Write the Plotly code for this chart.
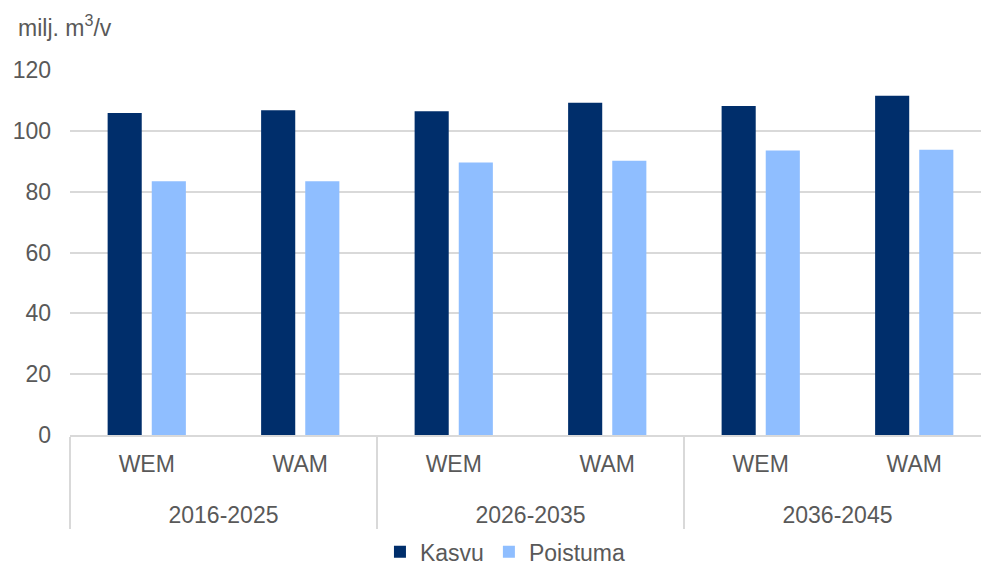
import plotly.graph_objects as go

# Periods and scenarios (two-level category axis)
periods = ["2016-2025", "2026-2035", "2036-2045"]
scenarios = ["WEM", "WAM"]

# Annual growth and drain, million m³ per year
kasvu = [105.9, 106.8, 106.4, 109.2, 108.2, 111.5]
poistuma = [83.4, 83.4, 89.6, 90.2, 93.5, 93.8]

# A spacer first line drops the period labels one row below the scenarios
x_levels = [
    ["\u00a0<br>" + p for p in periods for _ in scenarios],
    [s for _ in periods for s in scenarios],
]

text_color = "#595959"
grid_color = "#D9D9D9"
font_family = "Liberation Sans, Arial, sans-serif"

fig = go.Figure()
fig.add_trace(go.Bar(x=x_levels, y=kasvu, name="Kasvu",
                     marker=dict(color="#002E6B", line=dict(width=0))))
fig.add_trace(go.Bar(x=x_levels, y=poistuma, name="Poistuma",
                     marker=dict(color="#8FBEFF", line=dict(width=0))))

fig.update_layout(
    width=981, height=566,
    margin=dict(l=70, r=0, t=70, b=131, autoexpand=False),
    paper_bgcolor="white", plot_bgcolor="white",
    font=dict(family=font_family, size=23, color=text_color),
    barmode="group", bargap=0.425, bargroupgap=0.227,
    showlegend=True,
    legend=dict(orientation="h", x=0.478, xanchor="center",
                y=-0.32, yanchor="middle", font=dict(size=23),
                itemwidth=30, traceorder="normal"),
    annotations=[dict(text="milj. m<sup>3</sup>/v", xref="paper", yref="paper",
                      x=-0.059, y=1.12, xanchor="left", yanchor="middle",
                      showarrow=False, font=dict(size=23, color=text_color))],
)

fig.update_yaxes(range=[0, 120], dtick=20, showgrid=True, gridcolor=grid_color,
                 gridwidth=2, zeroline=False, showline=False, automargin=False,
                 ticklabelstandoff=18, tickfont=dict(size=23, color=text_color))
fig.update_xaxes(type="multicategory", range=[-0.5, 5.435], automargin=False,
                 showline=True, linecolor=grid_color, linewidth=2,
                 showdividers=True, dividercolor=grid_color, dividerwidth=2,
                 ticklabelstandoff=7,
                 showgrid=False, tickfont=dict(size=23, color=text_color))

fig.write_html("out.html")
